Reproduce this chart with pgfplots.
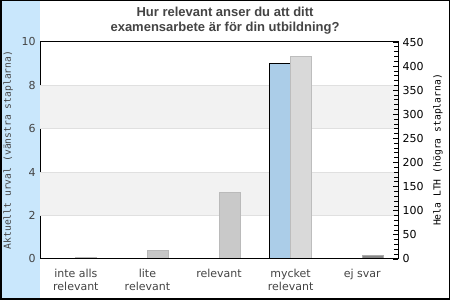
\documentclass[border=0pt]{standalone}
\usepackage{pgfplots}
\pgfplotsset{compat=1.18}
\usepackage{fontspec}
\setmainfont{DejaVu Sans}
\newfontfamily\titlefont{Liberation Sans}
\newfontfamily\monofont{DejaVu Sans Mono}
\definecolor{txt}{HTML}{444444}
\definecolor{bandblue}{HTML}{C9E7FC}
\definecolor{band}{HTML}{F2F2F2}
\definecolor{gridc}{HTML}{E0E0E0}
\definecolor{barblue}{HTML}{ABCDE8}
\begin{document}
\begin{tikzpicture}[x=1pt,y=1pt]
\fill[white] (0,0) rectangle (450,300);
\fill[bandblue] (1.5,1.5) rectangle (40,298.5);
\draw[black,line width=1.5pt] (0.75,0.75) rectangle (449.25,299.25);
\begin{axis}[
  at={(40pt,41pt)}, anchor=south west,
  scale only axis, width=358pt, height=217pt,
  xmin=-0.5, xmax=4.5, ymin=0, ymax=10,
  ytick={0,2,...,10}, ytick pos=left,
  major tick length=0pt,
  xtick={0,1,2,3,4},
  xticklabels={{inte alls\\relevant},{lite\\relevant},{relevant},{mycket\\relevant},{ej svar}},
  xticklabel style={align=center, font=\fontsize{11}{13}\selectfont, text=txt, yshift=-7pt},
  yticklabel style={font=\fontsize{11}{13}\selectfont, text=txt, xshift=-1pt},
  /pgf/number format/assume math mode=true,
  axis line style={black, line width=1pt},
  ybar, bar width=21pt,
]
\fill[band] (axis cs:-0.5,2) rectangle (axis cs:4.5,4);
\fill[band] (axis cs:-0.5,6) rectangle (axis cs:4.5,8);
\foreach \g in {2,4,6,8} {\edef\tmp{\noexpand\draw[gridc, line width=0.8pt] (axis cs:-0.5,\g) -- (axis cs:4.5,\g);}\tmp}
\addplot[bar shift=-10.5pt, fill=barblue, draw=black, line width=0.8pt] coordinates {(0,0) (1,0) (2,0) (3,9) (4,0)};
\end{axis}
\begin{axis}[
  at={(40pt,41pt)}, anchor=south west,
  scale only axis, width=358pt, height=217pt,
  xmin=-0.5, xmax=4.5, ymin=0, ymax=450,
  axis x line=none, axis y line*=right,
  ytick={0,50,...,450}, minor ytick={10,20,...,440},
  tick align=inside,
  major tick length=5pt, minor tick length=4pt,
  tick style={black, line width=0.8pt},
  axis line style={black, line width=1pt},
  yticklabel style={font=\fontsize{11}{13}\selectfont, text=black, xshift=1pt},
  /pgf/number format/assume math mode=true,
  ybar, bar width=21pt, bar shift=10.5pt,
]
\addplot[fill=black!22, draw=black!28, line width=0.8pt] coordinates {(0,3)};
\addplot[fill=black!22, draw=black!28, line width=0.8pt] coordinates {(1,18)};
\addplot[fill=black!21, draw=black!27, line width=0.8pt] coordinates {(2,138)};
\addplot[fill=black!15, draw=black!26, line width=0.8pt] coordinates {(3,420)};
\addplot[fill=black!47, draw=black!33, line width=0.8pt] coordinates {(4,7)};
\end{axis}
\draw[black, line width=1pt] (40,41) -- (398,41);
\node[anchor=base, text=txt, font=\titlefont\bfseries\fontsize{13}{15}\selectfont] at (225,283) {Hur relevant anser du att ditt};
\node[anchor=base, text=txt, font=\titlefont\bfseries\fontsize{13}{15}\selectfont] at (225,268.5) {examensarbete är för din utbildning?};
\node[rotate=90, text=txt, font=\monofont\fontsize{9.7}{12}\selectfont] at (8,150) {Aktuellt urval (vänstra staplarna)};
\node[rotate=90, text=black, font=\monofont\fontsize{9.7}{12}\selectfont] at (438,150) {Hela LTH (högra staplarna)};
\end{tikzpicture}
\end{document}
